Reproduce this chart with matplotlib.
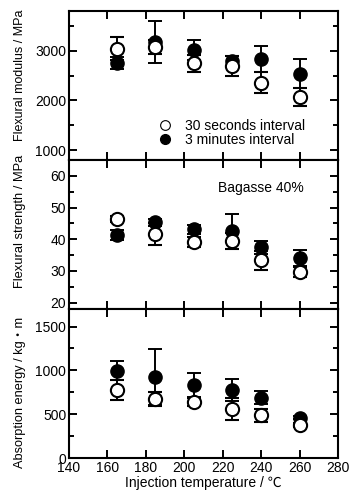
import numpy as np
import matplotlib
matplotlib.use("Agg")
import matplotlib.pyplot as plt
from matplotlib.lines import Line2D
from matplotlib.ticker import MultipleLocator

plt.rcParams['font.family'] = ['Liberation Sans', 'Noto Sans CJK JP', 'DejaVu Sans']
plt.rcParams['font.size'] = 10

# injection temperature
temps = [165, 185, 205, 225, 240, 260]

# flexural modulus (MPa)
mod_30s = [3040, 3070, 2750, 2690, 2360, 2060]
mod_30s_err = [230, 140, 170, 200, 220, 180]
mod_3m = [2750, 3170, 3020, 2800, 2830, 2540]
mod_3m_err = [115, 420, 200, 100, 260, 290]

# flexural strength (MPa)
str_30s = [46.3, 41.7, 39.0, 39.5, 33.3, 29.8]
str_30s_err = [1.0, 3.5, 1.6, 2.6, 3.0, 1.6]
str_3m = [41.4, 45.3, 43.2, 42.5, 37.5, 34.2]
str_3m_err = [1.6, 1.0, 1.4, 5.5, 2.1, 2.5]

# absorption energy
abs_30s = [780, 675, 640, 560, 485, 378]
abs_30s_err = [115, 80, 50, 130, 77, 20]
abs_3m = [995, 925, 835, 780, 688, 462]
abs_3m_err = [110, 315, 140, 127, 73, 20]

fig = plt.figure(figsize=(3.49, 4.91), dpi=100)
H = 491.0
W = 349.0
left = 69 / W
width = 269 / W
panels = [(11, 160), (160, 309), (309, 458)]
axes = []
for top, bot in panels:
    ax = fig.add_axes([left, 1 - bot / H, width, (bot - top) / H])
    axes.append(ax)

data = [
    (mod_30s, mod_30s_err, mod_3m, mod_3m_err, (800, 3800), 500, [1000, 2000, 3000]),
    (str_30s, str_30s_err, str_3m, str_3m_err, (18, 65), 5, [20, 30, 40, 50, 60]),
    (abs_30s, abs_30s_err, abs_3m, abs_3m_err, (0, 1700), 250, [0, 500, 1000, 1500]),
]

for ax, (o, oe, f, fe, ylim, mnr, yt) in zip(axes, data):
    ax.errorbar(temps, f, yerr=fe, fmt='o', color='black', ms=9.5, mfc='black', mec='black',
                ecolor='black', elinewidth=1.4, capsize=4.8, capthick=1.4, zorder=2)
    ax.errorbar(temps, o, yerr=oe, fmt='o', color='black', ms=9.5, mfc='white', mec='black',
                mew=1.5, ecolor='black', elinewidth=1.4, capsize=4.8, capthick=1.4, zorder=3)
    ax.set_xlim(140, 280)
    ax.set_ylim(*ylim)
    ax.set_yticks(yt)
    ax.yaxis.set_minor_locator(MultipleLocator(mnr))
    ax.xaxis.set_major_locator(MultipleLocator(20))
    ax.tick_params(which='both', direction='in', top=True, right=True, width=1.4)
    ax.tick_params(which='major', length=6, pad=2)
    ax.tick_params(which='minor', length=3.5)
    for s in ax.spines.values():
        s.set_linewidth(1.5)

for ax in axes[:2]:
    ax.tick_params(labelbottom=False)

axes[2].set_xticks(range(140, 281, 20))
axes[2].set_xlabel('Injection temperature / ℃', labelpad=1)

axes[0].set_ylabel('Flexural modulus / MPa', fontsize=9)
axes[1].set_ylabel('Flexural strength / MPa', fontsize=9.3)
axes[2].set_ylabel('Absorption energy / kg・m', fontsize=9.2)
axes[0].yaxis.set_label_coords(-0.16, 0.57)
axes[1].yaxis.set_label_coords(-0.16, 0.59)
axes[2].yaxis.set_label_coords(-0.16, 0.44)

axes[1].text(0.715, 0.81, 'Bagasse 40%', transform=axes[1].transAxes, ha='center', va='center')

handles = [
    Line2D([], [], marker='o', ls='none', ms=7, mfc='white', mec='black', mew=0.8),
    Line2D([], [], marker='o', ls='none', ms=7, mfc='black', mec='black'),
]
axes[0].legend(handles, ['30 seconds interval', '3 minutes interval'], loc='lower left',
               bbox_to_anchor=(0.29, 0.02), frameon=False, handletextpad=0.8,
               labelspacing=0.05, handlelength=1.2, borderpad=0.2)

fig.savefig('out.png', dpi=100)
